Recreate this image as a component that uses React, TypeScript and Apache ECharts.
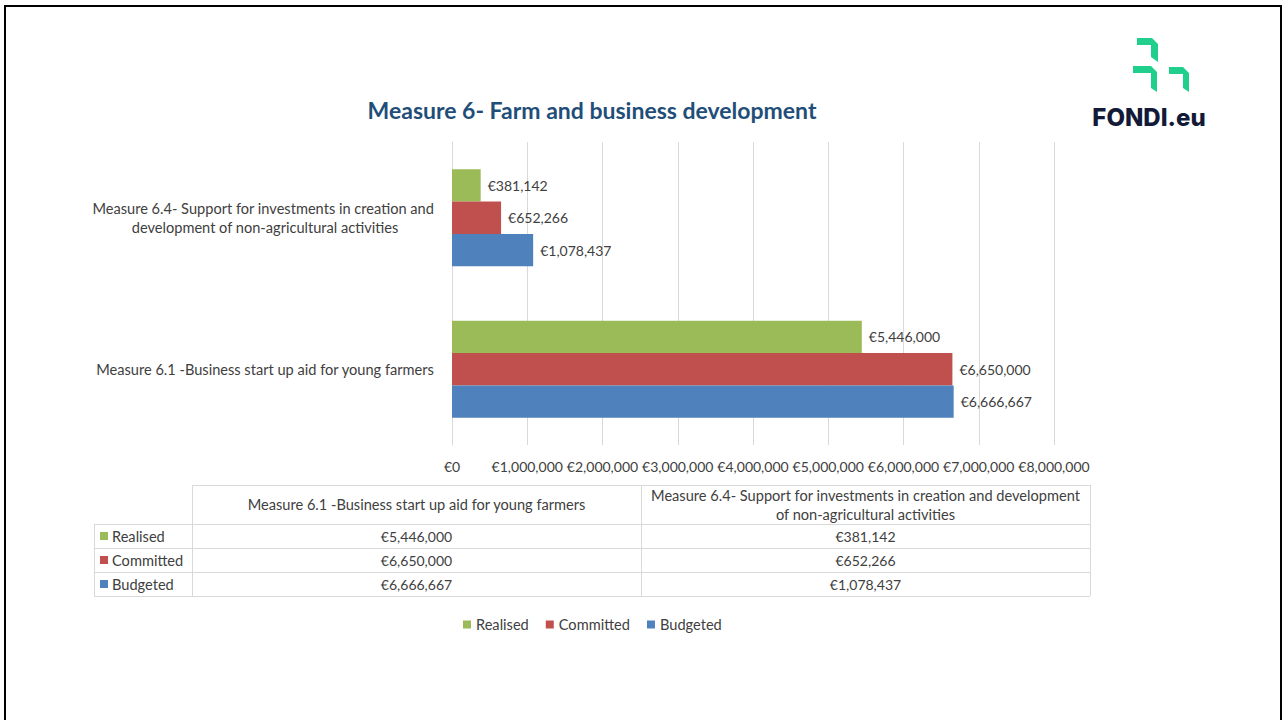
import React, { useEffect, useRef } from "react";
import * as echarts from "echarts";

const categories = [
  "Measure 6.1 -Business start up aid for young farmers",
  "Measure 6.4- Support for investments in creation and development of non-agricultural activities",
];
const seriesNames = ["Realised", "Committed", "Budgeted"];
const realised = [5446000, 381142];
const committed = [6650000, 652266];
const budgeted = [6666667, 1078437];
const seriesColors = ["#9BBB59", "#C0504D", "#4F81BD"];
const xMin = 0;
const xMax = 8000000;
const xInterval = 1000000;
const title = "Measure 6- Farm and business development";
const tableHeaders = [
  ["Measure 6.1 -Business start up aid for young farmers"],
  ["Measure 6.4- Support for investments in creation and development", "of non-agricultural activities"],
];

const FONT = "Lato, 'Noto Sans', sans-serif";
const TXT = 14.6;
const NUM = 14;
const fmt = (v: number) => "€" + Number(v).toLocaleString("en-US");

export default function App() {
  const ref = useRef<HTMLDivElement>(null);
  useEffect(() => {
    if (!ref.current) return;
    const chart = echarts.init(ref.current, null, { renderer: "svg" });
    const seriesData = [realised, committed, budgeted];

    const graphics: any[] = [];
    graphics.push({
      type: "rect",
      shape: { x: 5, y: 6, width: 1276, height: 800 },
      style: { fill: "none", stroke: "#000", lineWidth: 2 },
      silent: true,
    });
    graphics.push({
      type: "text",
      x: 592,
      y: 110,
      style: {
        text: title,
        fill: "#1F4E79",
        font: `bold 23px ${FONT}`,
        align: "center",
        verticalAlign: "middle",
      },
    });
    const green = "#1FCF8B";
    const shapes = [
      [[1137, 38], [1152, 38], [1158, 44], [1158, 62], [1151, 57], [1151, 45], [1137, 45]],
      [[1133, 66], [1151, 66], [1157, 72], [1157, 92], [1151, 88], [1151, 73], [1133, 73]],
      [[1169, 67], [1183, 67], [1189, 73], [1189, 92], [1183, 88], [1183, 74], [1169, 74]],
    ];
    shapes.forEach((pts) =>
      graphics.push({ type: "polygon", shape: { points: pts }, style: { fill: green } })
    );
    graphics.push({
      type: "text",
      x: 1149,
      y: 117,
      style: {
        text: "FONDI.eu",
        fill: "#121A38",
        font: `800 24px Inter, ${FONT}`,
        align: "center",
        verticalAlign: "middle",
      },
    });

    const lineColor = "#D9D9D9";
    const tx0 = 94, tc1 = 192, tc2 = 641, tx1 = 1090;
    const ty0 = 485, ty1 = 524, rowH = 24;
    const nRows = seriesNames.length;
    const yEnd = ty1 + nRows * rowH;
    const addLine = (x1: number, y1: number, x2: number, y2: number) =>
      graphics.push({
        type: "line",
        shape: { x1, y1, x2, y2 },
        style: { stroke: lineColor, lineWidth: 1 },
        silent: true,
      });
    addLine(tc1, ty0 + 0.5, tx1, ty0 + 0.5);
    for (let i = 0; i <= nRows; i++) addLine(tx0, ty1 + i * rowH + 0.5, tx1, ty1 + i * rowH + 0.5);
    addLine(tx0 + 0.5, ty1, tx0 + 0.5, yEnd);
    addLine(tc1 + 0.5, ty0, tc1 + 0.5, yEnd);
    addLine(tc2 + 0.5, ty0, tc2 + 0.5, yEnd);
    addLine(tx1 + 0.5, ty0, tx1 + 0.5, yEnd);
    const textEl = (text: string, x: number, y: number, size: number, align = "center") => ({
      type: "text",
      x,
      y,
      style: {
        text,
        fill: "#404040",
        font: `${size}px ${FONT}`,
        align,
        verticalAlign: "middle",
      },
    });
    const colCenters = [(tc1 + tc2) / 2, (tc2 + tx1) / 2];
    tableHeaders.forEach((lines, ci) => {
      const n = lines.length;
      lines.forEach((ln, li) => {
        graphics.push(textEl(ln, colCenters[ci], (ty0 + ty1) / 2 + (li - (n - 1) / 2) * 19, TXT));
      });
    });
    seriesNames.forEach((name, ri) => {
      const cy = ty1 + ri * rowH + rowH / 2;
      graphics.push({
        type: "rect",
        shape: { x: 100, y: cy - 4, width: 8, height: 8 },
        style: { fill: seriesColors[ri] },
      });
      graphics.push(textEl(name, 112, cy, TXT, "left"));
      seriesData[ri].forEach((v, ci) => {
        graphics.push(textEl(fmt(v), colCenters[ci], cy, NUM));
      });
    });

    chart.setOption({
      animation: false,
      backgroundColor: "#fff",
      textStyle: { fontFamily: FONT },
      grid: { left: 452, top: 142, width: 602, height: 303, containLabel: false },
      legend: {
        data: seriesNames,
        left: 458,
        top: 612,
        icon: "rect",
        itemWidth: 8,
        itemHeight: 8,
        itemGap: 17,
        textStyle: { color: "#404040", fontSize: TXT, fontFamily: FONT },
      },
      xAxis: {
        type: "value",
        min: xMin,
        max: xMax,
        interval: xInterval,
        axisLine: { show: false },
        axisTick: { show: false },
        splitLine: { show: true, lineStyle: { color: "#D9D9D9" } },
        axisLabel: {
          formatter: (v: number) => fmt(v),
          color: "#404040",
          fontSize: NUM,
          fontFamily: FONT,
          margin: 14,
        },
      },
      yAxis: {
        type: "category",
        data: categories,
        axisLine: { show: true, lineStyle: { color: "#D9D9D9" } },
        axisTick: { show: false },
        axisLabel: {
          align: "center",
          margin: 187,
          width: 368,
          overflow: "break",
          lineHeight: 19,
          color: "#404040",
          fontSize: TXT,
          fontFamily: FONT,
        },
      },
      series: seriesNames.map((name, i) => ({
        name,
        type: "bar",
        data: seriesData[i],
        barGap: "0%",
        barCategoryGap: "36%",
        itemStyle: { color: seriesColors[i] },
        label: {
          show: true,
          position: "right",
          distance: 7,
          formatter: (p: any) => fmt(p.value),
          color: "#404040",
          fontSize: NUM,
          fontFamily: FONT,
        },
      })),
      graphic: graphics,
    });
    return () => chart.dispose();
  }, []);
  return (
    <div
      ref={ref}
      style={{ position: "fixed", left: 0, top: 0, width: 1282, height: 720 }}
    />
  );
}
